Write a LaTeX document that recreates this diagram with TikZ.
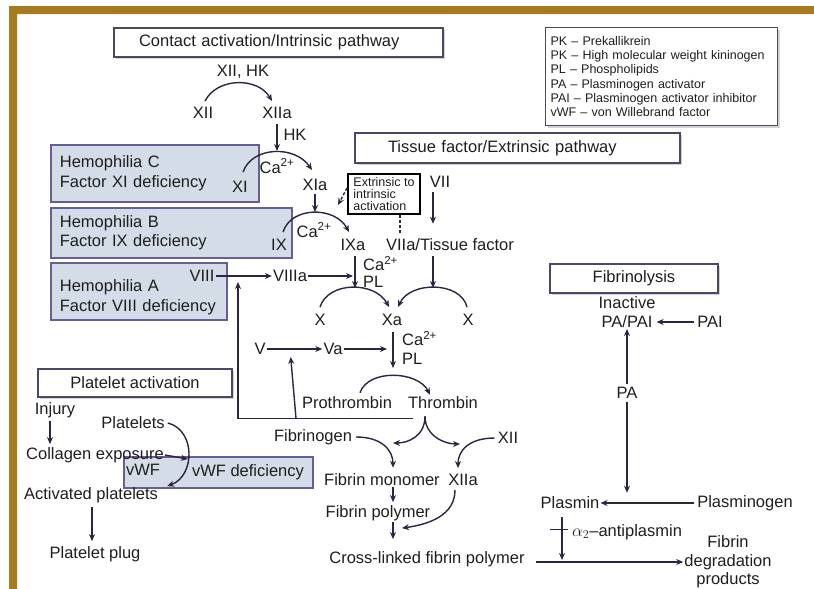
\documentclass[tikz,border=0pt]{standalone}
\usepackage{fontspec}
\setmainfont{Liberation Sans}
\usetikzlibrary{arrows.meta,shadows}

\definecolor{framegold}{HTML}{A67B1F}
\definecolor{boxline}{HTML}{4C4763}
\definecolor{hemofill}{HTML}{D4DDE7}
\definecolor{hemoline}{HTML}{675E94}
\definecolor{arrowcol}{HTML}{2C2440}
\definecolor{txtcol}{HTML}{1E1E1E}

\begin{document}
\begin{tikzpicture}[x=1pt,y=-1pt]
    \tikzset{lbl/.style = {inner sep=1pt, text=txtcol, font=\fontsize{16.5}{19.5}\selectfont},
             small/.style = {text=txtcol, font=\fontsize{12.5}{14.2}\selectfont},
             titlebox/.style = {lbl, draw=boxline, fill=white, line width=1.2pt,
                                drop shadow={shadow xshift=2pt, shadow yshift=-2pt, opacity=0.35}},
             defbox/.style = {lbl, draw=hemoline, fill=hemofill, line width=1.8pt, anchor=north west, align=left},
             arr/.style = {draw=arrowcol, line width=1.4pt, -{Stealth[length=7pt,width=6pt]}},
             dasharr/.style = {arr, dash pattern=on 3pt off 2pt}}

    \useasboundingbox (0,0) rectangle (814,589);
    \fill[framegold] (9,589) -- (9,6) -- (814,6) -- (814,14) -- (17,14) -- (17,589) -- cycle;

    % Title boxes and legend
    \node[titlebox, minimum width=329, minimum height=29, text width=279, align=left] (contact) at (278.5,42.5) {Contact activation/Intrinsic pathway};
    \node[titlebox, minimum width=325, minimum height=30, text width=259, align=left] (tissue) at (517.5,148) {Tissue factor/Extrinsic pathway};
    \node[titlebox, minimum width=168, minimum height=29] (fibrinolysis) at (634,278.5) {Fibrinolysis};
    \node[titlebox, minimum width=194, minimum height=28] (platelet) at (135,383) {Platelet activation};
    \node[titlebox, small, anchor=north west, align=left, minimum width=232, minimum height=98, text width=222] (legend) at (545,27)
        {PK -- Prekallikrein\\PK -- High molecular weight kininogen\\PL -- Phospholipids\\PA -- Plasminogen activator\\PAI -- Plasminogen activator inhibitor\\vWF -- von Willebrand factor};

    % Deficiency boxes
    \node[defbox, inner xsep=8pt, minimum width=208, minimum height=57, text width=190] (hemC) at (50,144) {Hemophilia C\\Factor XI deficiency};
    \node[defbox, inner xsep=8pt, minimum width=241, minimum height=50, text width=223] (hemB) at (50,207) {Hemophilia B\\Factor IX deficiency};
    \node[defbox, inner xsep=8pt, minimum width=176, minimum height=57, text width=158, text height=24pt] (hemA) at (50,262) {Hemophilia A\\Factor VIII deficiency};
    \node[defbox, inner sep=0pt, minimum width=189, minimum height=31] (vwfbox) at (123,456) {};

    % Intrinsic pathway
    \foreach \pos/\name/\txt in {{(243,72)/xiihk/{XII, HK}}, {(203,113)/xii/XII}, {(277,113)/xiia/XIIa},
                                 {(295,135)/hk/HK}, {(240,187)/xi/XI}, {(277,166)/ca1/Ca\textsuperscript{2+}},
                                 {(315,185)/xia/XIa}, {(314,230)/ca2/Ca\textsuperscript{2+}}, {(279,245)/ix/IX},
                                 {(353,245)/ixa/IXa}, {(202,276)/viii/VIII}, {(290,276)/viiia/VIIIa}}
        \node[lbl] (\name) at \pos {\txt};

    % Extrinsic pathway
    \node[draw=black, fill=white, line width=2pt, small, font=\fontsize{12.5}{12}\selectfont, align=left,
          inner sep=3pt, minimum width=72, minimum height=38] (extr) at (384,194) {Extrinsic to\\intrinsic\\activation};
    \node[lbl] (viiatf) at (450,245) {VIIa/Tissue factor};
    \foreach \pos/\name/\txt in {{(440,182)/vii/VII}, {(320,320)/xl/X}, {(392,320)/xa/Xa}, {(468,320)/xr/X}}
        \node[lbl] (\name) at \pos {\txt};
    \node[lbl, align=left, anchor=west, font=\fontsize{16.5}{17}\selectfont] (ca3) at (362,272) {Ca\textsuperscript{2+}\\PL};
    \node[lbl, align=left, anchor=west, font=\fontsize{16.5}{19}\selectfont] (ca4) at (401,348) {Ca\textsuperscript{2+}\\PL};

    % Common pathway
    \foreach \pos/\name/\txt in {{(260,349)/v/V}, {(333,349)/va/Va}, {(347,403)/prothr/Prothrombin},
                                 {(443,403)/thromb/Thrombin}, {(313,437)/fibrinogen/Fibrinogen}, {(508,438)/xiitwo/XII},
                                 {(382,480)/fmono/Fibrin monomer}, {(463,480)/xiiatwo/XIIa},
                                 {(378,513)/fpoly/Fibrin polymer}, {(427,559)/xlink/Cross-linked fibrin polymer}}
        \node[lbl] (\name) at \pos {\txt};

    % Fibrinolysis
    \node[lbl, align=center] (inactive) at (627,312) {Inactive\\PA/PAI};
    \foreach \pos/\name/\txt in {{(710,322)/pai/PAI}, {(627,393)/pa/PA}, {(570,503)/plasmin/Plasmin},
                                 {(745,503)/plasminogen/Plasminogen}}
        \node[lbl] (\name) at \pos {\txt};
    \node[lbl, anchor=west] (anti) at (571,532) {$\alpha_2$--antiplasmin};
    \node[lbl, align=center, font=\fontsize{16.5}{18.5}\selectfont] (fdp) at (728,562) {Fibrin\\degradation\\products};

    % Platelet activation
    \foreach \pos/\name/\txt in {{(55,410)/injury/Injury}, {(95,455)/collagen/Collagen exposure},
                                 {(133,423)/platelets/Platelets}, {(91,495)/actplt/Activated platelets},
                                 {(95,554)/plug/Platelet plug}, {(143,470)/vwf/vWF}, {(248,472)/vwfd/vWF deficiency}}
        \node[lbl] (\name) at \pos {\txt};

    % Free ends on the curves
    \coordinate (xiTop) at (277,151);
    \coordinate (ixTop) at (315,212);
    \coordinate (exTip) at (338,205);
    \coordinate (lTop) at (355,288);
    \coordinate (rTop) at (433,288);
    \coordinate (thTop) at (393,376);
    \coordinate (fbA) at (238,276);
    \coordinate (fbB) at (290,349);
    \coordinate (spL) at (393,443);
    \coordinate (spR) at (460,444);
    \coordinate (clTip) at (188,459);

    % Intrinsic arrows
    \draw[arr] ([shift={(2,-5)}]xii.north) .. controls +(12,-24) and +(-14,-24) .. ([shift={(-5,-5)}]xiia.north);
    \draw[arr, shorten <=4pt] (xiia.south) -- (xiTop);
    \draw[arr] ([shift={(3,-8)}]xi.north) .. controls +(9,-26) and +(-17,-25) .. ([shift={(-3,-8)}]xia.north);
    \draw[arr, shorten <=2pt] (xia.south) -- (ixTop);
    \draw[arr] ([shift={(4,-6)}]ix.north) .. controls +(8,-26) and +(-14,-26) .. ([shift={(-4,-6)}]ixa.north);
    \draw[dasharr] ([shift={(0,-6)}]extr.west) -- (exTip);
    \draw[draw=arrowcol, line width=1.4pt, dash pattern=on 3pt off 2pt, shorten >=5pt]
        ([xshift=16pt]extr.south) -- ([xshift=16pt]extr.south |- viiatf.north);
    \draw[arr, shorten <=4pt] ([xshift=2pt]ixa.south) -- (lTop);
    \draw[arr] (viii.east) -- (viiia.west);
    \draw[arr, shorten >=2pt] (viiia.east) -- (viiia.east -| lTop);

    % Extrinsic arrows
    \draw[arr, shorten <=3pt, shorten >=14pt] ([xshift=-7pt]vii.south) -- ([xshift=-7pt]vii.south |- viiatf.north);
    \draw[arr, shorten <=4pt] ([xshift=-17pt]viiatf.south) -- (rTop);
    \draw[arr] ([shift={(0,-6)}]xl.north) .. controls +(8,-26) and +(-14,-26) .. ([shift={(-3,-6)}]xa.north);
    \draw[arr] ([shift={(-1,-6)}]xr.north) .. controls +(-6,-26) and +(12,-26) .. ([shift={(6,-6)}]xa.north);

    % Common pathway arrows
    \draw[arr, shorten <=5pt, shorten >=8pt] ([xshift=1pt]xa.south) -- ([xshift=1pt]xa.south |- thTop);
    \draw[arr] (v.east) -- (va.west);
    \draw[arr, shorten >=5pt] (va.east) -- (va.east -| xa.south);
    \draw[arr] ([shift={(13,-3)}]prothr.north) .. controls +(8,-24) and +(-12,-24) .. ([shift={(-13,-1)}]thromb.north);
    \draw[arr, shorten >=6pt] ([shift={(6,8)}]thromb.south west) -| (fbA);
    \draw[arr, shorten >=8pt] ([shift={(6,8)}]thromb.south west -| fbB) -- (fbB);
    \draw[arr] ([shift={(-18,6)}]thromb.south) .. controls +(0,20) and +(15,0) .. (spL);
    \draw[arr] ([shift={(-18,6)}]thromb.south) .. controls +(0,20) and +(-15,0) .. (spR);
    \draw[arr] ([xshift=3pt]fibrinogen.east) .. controls +(25,0) and +(0,-18) .. ([shift={(11,-5)}]fmono.north);
    \draw[arr] ([xshift=-2pt]xiitwo.west) .. controls +(-25,0) and +(0,-18) .. ([shift={(-5,-5)}]xiiatwo.north);
    \draw[arr, shorten >=2pt] ([xshift=11pt]fmono.south) -- ([xshift=11pt]fmono.south |- fpoly.north);
    \draw[arr, shorten >=11pt] ([xshift=15pt]fpoly.south) -- ([xshift=15pt]fpoly.south |- xlink.north);
    \draw[arr] ([shift={(-8,3)}]xiiatwo.south) .. controls +(0,25) and +(28,-4) .. ([shift={(-25,-22)}]xlink.north);
    \draw[arr] ([shift={(10,3)}]xlink.east) -- (fdp.west);

    % Fibrinolysis arrows
    \draw[arr, shorten <=2pt] (pa.north) -- (inactive.south);
    \draw[arr, shorten <=2pt] (pai.west) -- (pai.west -| inactive.east);
    \draw[arr, shorten <=2pt, shorten >=3pt] (pa.south) -- (pa.south |- plasmin.north);
    \draw[arr, shorten <=2pt] (plasminogen.west) -- (plasmin.east);
    \draw[arr, shorten >=9pt] ([shift={(-8,7)}]plasmin.south) -- ([shift={(-8,7)}]plasmin.south |- fdp.west);
    \draw[draw=arrowcol, line width=1.4pt] ([shift={(-20,19)}]plasmin.south) -- ([shift={(-2,19)}]plasmin.south);

    % Platelet arrows
    \draw[arr, shorten <=2pt, shorten >=2pt] ([xshift=-5pt]injury.south) -- ([xshift=-5pt]injury.south |- collagen.north);
    \draw[arr] ([xshift=2pt]platelets.east) .. controls +(28,7) and +(28,-10) .. ([xshift=8pt]actplt.north east);
    \draw[arr] (collagen.east) -- (clTip);
    \draw[arr, shorten <=3pt, shorten >=4pt] ([xshift=1pt]actplt.south) -- ([xshift=1pt]actplt.south |- plug.north);
\end{tikzpicture}
\end{document}
